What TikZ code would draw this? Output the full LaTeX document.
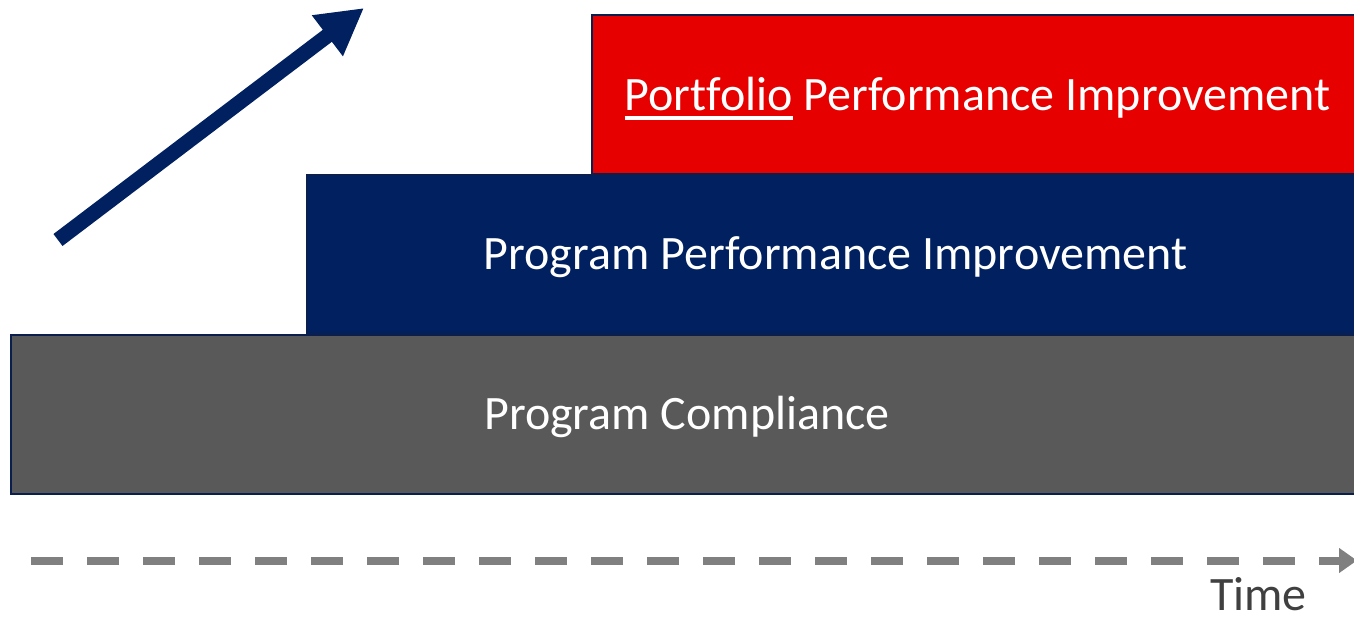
\documentclass[tikz,border=0pt]{standalone}
\usepackage{fontspec}
\setmainfont{Carlito}[Ligatures=NoCommon]
\usepackage{xcolor}
\usetikzlibrary{arrows.meta}
\definecolor{tierred}{HTML}{E60000}
\definecolor{tierblue}{HTML}{002060}
\definecolor{tiergray}{HTML}{595959}
\definecolor{tierline}{HTML}{0B1F4F}
\definecolor{timegray}{HTML}{808080}
\definecolor{timetext}{HTML}{404040}
\tikzset{tier/.style={draw=tierline, line width=2pt, minimum height=159pt,
  text=white, font=\fontsize{48}{56}\selectfont, text height=31pt,
  text depth=0pt, inner sep=0pt}}
\newcommand{\ulword}[1]{\setbox0\hbox{#1}\rlap{\rule[-10pt]{\wd0}{3.8pt}}\box0\relax}

\begin{document}
\begin{tikzpicture}[x=1pt,y=-1pt]
\useasboundingbox (0,0) rectangle (1354,618);
% three tiers, bottom to top
\node[tier, fill=tiergray, minimum width=1352pt] (compliance) at (687,414) {Program Compliance};
\node[tier, fill=tierblue, minimum width=1057pt] (program) at (835.5,254) {Program Performance Improvement};
\node[tier, fill=tierred, minimum width=771pt] (portfolio) at (977.5,94.5) {\ulword{Portfolio} Performance Improvement};
% rising arrow
\coordinate (rise tail) at (58,240);
\coordinate (rise tip) at (364,8);
\draw[tierblue, line width=15pt, -{Triangle[length=46pt,width=48pt]}] (rise tail) -- (rise tip);
% time axis
\coordinate (time start) at (31,560.5);
\coordinate (time end) at (1357,560.5);
\draw[timegray, line width=8pt, dash pattern=on 32pt off 24pt, -{Triangle[length=18pt,width=24pt]}] (time start) -- (time end);
\node[font=\fontsize{48}{56}\selectfont, text=timetext, text height=29pt, text depth=0pt, inner sep=0pt] (time) at (1258.5,596) {Time};
\end{tikzpicture}
\end{document}
